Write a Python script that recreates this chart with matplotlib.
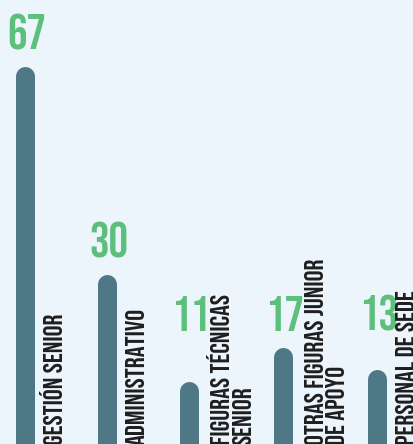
import numpy as np
import matplotlib
matplotlib.use("Agg")
import matplotlib.pyplot as plt

# categories and counts
labels = ["GESTIÓN SENIOR", "ADMINISTRATIVO", "FIGURAS TÉCNICAS\nSENIOR",
          "OTRAS FIGURAS JUNIOR\nDE APOYO", "PERSONAL DE SEDE"]
values = [67, 30, 11, 17, 13]

BG = "#EDF5FC"
BAR = "#4E7886"
GREEN = "#5CBF7C"
INK = "#1E1E1E"
FONT = ["Bebas Neue", "DejaVu Sans"]

W, H = 414, 444
fig = plt.figure(figsize=(W / 100, H / 100), dpi=100, facecolor=BG)
ax = fig.add_axes([0, 0, 1, 1])
ax.set_facecolor(BG)
ax.axis("off")

# each group is as wide as the bar plus its (rotated) label lines
lines = np.array([lab.count("\n") + 1 for lab in labels])
gaps = 70 + 12 * lines
x = 25.5 + np.concatenate([[0], np.cumsum(gaps[:-1])])
ax.set_xlim(0, W)

k = 5.62         # px per unit
ymin = 8.5 / k   # baseline sits just below the bottom edge
ax.set_ylim(ymin, ymin + H / k)

lw = 19 * 72 / 100
for xi, v in zip(x, values):
    ax.plot([xi, xi], [0, v], color=BAR, lw=lw, solid_capstyle="round")

# value numbers sit above the bar, but never below the label area
num_y = np.maximum(values, 17)
for xi, v, ny in zip(x, values, num_y):
    ax.annotate(str(v), xy=(xi, ny), xytext=(1, 19), textcoords="offset points",
                ha="center", va="baseline", fontsize=35, color=GREEN,
                family=FONT)

# va="baseline" anchors the last line, so push multi-line labels outwards
pitch = 15.5
for xi, lab, n in zip(x, labels, lines):
    ax.annotate(lab, xy=(xi, 0), xycoords=("data", "axes fraction"),
                xytext=(27 + (n - 1) * pitch, -1), textcoords="offset points",
                rotation=90, rotation_mode="anchor", ha="left", va="baseline",
                fontsize=19.5, color=INK, family=FONT,
                linespacing=1.15, annotation_clip=False)

fig.savefig("out.png", dpi=100, facecolor=BG)
